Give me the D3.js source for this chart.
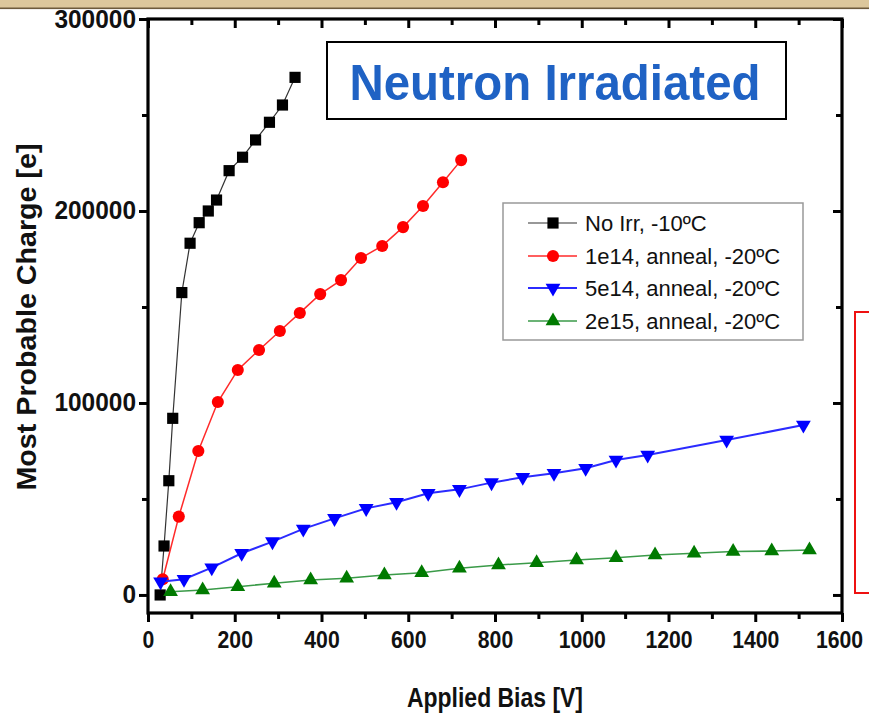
<!DOCTYPE html>
<html>
<head>
<meta charset="utf-8">
<script src="https://cdn.jsdelivr.net/npm/d3@7/dist/d3.min.js"></script>
<style>
  html, body { margin: 0; padding: 0; background: #ffffff; }
  svg { display: block; }
  text { font-family: "Liberation Sans", Arial, sans-serif; }
</style>
</head>
<body>
<svg id="chart" width="869" height="715"></svg>
<script>
// Most probable collected charge vs applied bias, per fluence
const noIrrBias   = [28, 37, 48, 57, 78, 97, 118, 139, 158, 187, 218, 248, 280, 310, 339];
const noIrrCharge = [0, 25500, 59500, 92000, 157500, 183200, 193900, 200000, 205700, 221000, 228000, 237000, 246200, 255200, 269600];

const e14Bias   = [34, 71, 116, 161, 207, 256, 304, 350, 397, 445, 491, 540, 588, 634, 680, 722];
const e14Charge = [8200, 40800, 75000, 100500, 117200, 127600, 137500, 146900, 156700, 164000, 175500, 181800, 191600, 202600, 215000, 226500];

const e5Bias   = [29, 83, 147, 216, 287, 358, 430, 503, 573, 646, 718, 792, 864, 936, 1009, 1079, 1152, 1334, 1511];
const e5Charge = [6900, 8200, 14200, 21700, 27800, 34400, 39900, 45100, 48300, 53000, 55000, 58500, 61300, 63400, 66000, 70300, 72900, 80700, 88500];

const e15Bias   = [52, 126, 207, 291, 375, 458, 545, 631, 718, 808, 896, 988, 1079, 1169, 1259, 1349, 1438, 1525];
const e15Charge = [1700, 2600, 4300, 6100, 7800, 8700, 10400, 11600, 13900, 15600, 16800, 18200, 19400, 20800, 21700, 22600, 22900, 23400];

const seriesNames = ["No Irr, -10ºC", "1e14, anneal, -20ºC", "5e14, anneal, -20ºC", "2e15, anneal, -20ºC"];
const xTicks = [0, 200, 400, 600, 800, 1000, 1200, 1400, 1600];
const yTicks = [0, 100000, 200000, 300000];

const series = [
  { name: seriesNames[0], xs: noIrrBias, ys: noIrrCharge, line: "#333333", fill: "#000000", lw: 1.2, sym: d3.symbolSquare, size: 125, rot: 0 },
  { name: seriesNames[1], xs: e14Bias,   ys: e14Charge,   line: "#ff2a2a", fill: "#ff0000", lw: 1.5, sym: d3.symbolCircle, size: 115, rot: 0 },
  { name: seriesNames[2], xs: e5Bias,    ys: e5Charge,    line: "#2b2bff", fill: "#0000ff", lw: 2,   sym: d3.symbolTriangle, size: 95, rot: 180 },
  { name: seriesNames[3], xs: e15Bias,   ys: e15Charge,   line: "#3a9a48", fill: "#007a00", lw: 1.6, sym: d3.symbolTriangle, size: 95, rot: 0 }
];

const svg = d3.select("#chart");
const W = 869, H = 715;
const L = 148, R = 842, T = 19, B = 613;

// textured page strip along the top edge
svg.append("rect").attr("x", 0).attr("y", 0).attr("width", W).attr("height", 8).attr("fill", "#dcc79c");
svg.append("rect").attr("x", 0).attr("y", 7.5).attr("width", W).attr("height", 1.6).attr("fill", "#6d5a3c");

const x = d3.scaleLinear().domain([0, 1600]).range([L, R]);
const y = d3.scaleLinear().domain([-9400, 300000]).range([B, T]);

const minorX = d3.range(100, 1600, 200);
const minorY = d3.range(50000, 300000, 100000);

function styleAxis(g, fontSize, digitW) {
  g.select(".domain").remove();
  g.selectAll(".tick line").attr("stroke", "#000").attr("stroke-width", 3);
  g.selectAll(".tick text").attr("font-size", fontSize || 25).attr("font-weight", "bold").attr("fill", "#111")
    .attr("font-family", "'Liberation Sans', Arial, sans-serif");
  if (digitW) {
    g.selectAll(".tick text").each(function () {
      const t = d3.select(this);
      t.attr("textLength", t.text().length * digitW).attr("lengthAdjust", "spacingAndGlyphs");
    });
  }
}

// bottom axis: outward ticks with labels
svg.append("g").attr("transform", `translate(0,${B})`)
  .call(d3.axisBottom(x).tickValues(xTicks).tickSize(9).tickPadding(10).tickFormat(d3.format("d")))
  .call(g => styleAxis(g, 23, 11.8))
  .call(g => g.selectAll(".tick text").filter(d => d === 1600).attr("dx", -3));
svg.append("g").attr("transform", `translate(0,${B})`)
  .call(d3.axisBottom(x).tickValues(minorX).tickSize(6).tickFormat(""))
  .call(g => styleAxis(g));

// top axis: inward ticks
svg.append("g").attr("transform", `translate(0,${T})`)
  .call(d3.axisTop(x).tickValues(xTicks).tickSize(-9).tickFormat(""))
  .call(g => styleAxis(g));
svg.append("g").attr("transform", `translate(0,${T})`)
  .call(d3.axisTop(x).tickValues(minorX).tickSize(-6).tickFormat(""))
  .call(g => styleAxis(g));

// left axis: outward ticks with labels
svg.append("g").attr("transform", `translate(${L},0)`)
  .call(d3.axisLeft(y).tickValues(yTicks).tickSize(9).tickPadding(3).tickFormat(d3.format("d")))
  .call(g => styleAxis(g, 25, 13.6));
svg.append("g").attr("transform", `translate(${L},0)`)
  .call(d3.axisLeft(y).tickValues(minorY).tickSize(6).tickFormat(""))
  .call(g => styleAxis(g));

// right axis: inward ticks
svg.append("g").attr("transform", `translate(${R},0)`)
  .call(d3.axisRight(y).tickValues(yTicks).tickSize(-9).tickFormat(""))
  .call(g => styleAxis(g));
svg.append("g").attr("transform", `translate(${R},0)`)
  .call(d3.axisRight(y).tickValues(minorY).tickSize(-6).tickFormat(""))
  .call(g => styleAxis(g));

// plot frame
svg.append("rect").attr("x", L).attr("y", T).attr("width", R - L).attr("height", B - T)
  .attr("fill", "none").attr("stroke", "#000").attr("stroke-width", 3.2);

// series lines and markers
const line = d3.line().x(d => x(d[0])).y(d => y(d[1]));
series.forEach(s => {
  const pts = s.xs.map((v, i) => [v, s.ys[i]]);
  svg.append("path").datum(pts).attr("d", line)
    .attr("fill", "none").attr("stroke", s.line).attr("stroke-width", s.lw);
  svg.append("g").selectAll("path").data(pts).join("path")
    .attr("d", d3.symbol().type(s.sym).size(s.size))
    .attr("transform", d => `translate(${x(d[0])},${y(d[1])}) rotate(${s.rot})`)
    .attr("fill", s.fill);
});

// axis titles
svg.append("text").attr("x", 495).attr("y", 707).attr("text-anchor", "middle")
  .attr("font-size", 27).attr("font-weight", "bold").attr("fill", "#111")
  .attr("textLength", 176).attr("lengthAdjust", "spacingAndGlyphs")
  .text("Applied Bias [V]");
svg.append("text").attr("transform", "translate(36,317) rotate(-90)").attr("text-anchor", "middle")
  .attr("font-size", 27).attr("font-weight", "bold").attr("fill", "#111")
  .attr("textLength", 347).attr("lengthAdjust", "spacingAndGlyphs")
  .text("Most Probable Charge [e]");

// headline box
svg.append("rect").attr("x", 327).attr("y", 42).attr("width", 459).attr("height", 77)
  .attr("fill", "#fff").attr("stroke", "#000").attr("stroke-width", 2);
svg.append("text").attr("x", 555).attr("y", 100).attr("text-anchor", "middle")
  .attr("font-size", 50).attr("font-weight", "bold").attr("fill", "#1f62c4")
  .attr("textLength", 411).attr("lengthAdjust", "spacingAndGlyphs")
  .text("Neutron Irradiated");

// legend
const lg = svg.append("g");
lg.append("rect").attr("x", 503).attr("y", 203).attr("width", 300).attr("height", 137)
  .attr("fill", "#fff").attr("stroke", "#999").attr("stroke-width", 1.5);
const rowY = [223, 256, 288, 321];
series.forEach((s, i) => {
  const cy = rowY[i];
  lg.append("line").attr("x1", 528).attr("x2", 577).attr("y1", cy).attr("y2", cy)
    .attr("stroke", s.line).attr("stroke-width", s.lw);
  lg.append("path").attr("d", d3.symbol().type(s.sym).size(s.size))
    .attr("transform", `translate(553,${cy}) rotate(${s.rot})`).attr("fill", s.fill);
  lg.append("text").attr("x", 585).attr("y", cy + 8).attr("font-size", 22).attr("fill", "#111")
    .text(s.name);
});

// side callout frame
svg.append("rect").attr("x", 855).attr("y", 312).attr("width", 40).attr("height", 281)
  .attr("fill", "none").attr("stroke", "#ee1111").attr("stroke-width", 2);
</script>
</body>
</html>
